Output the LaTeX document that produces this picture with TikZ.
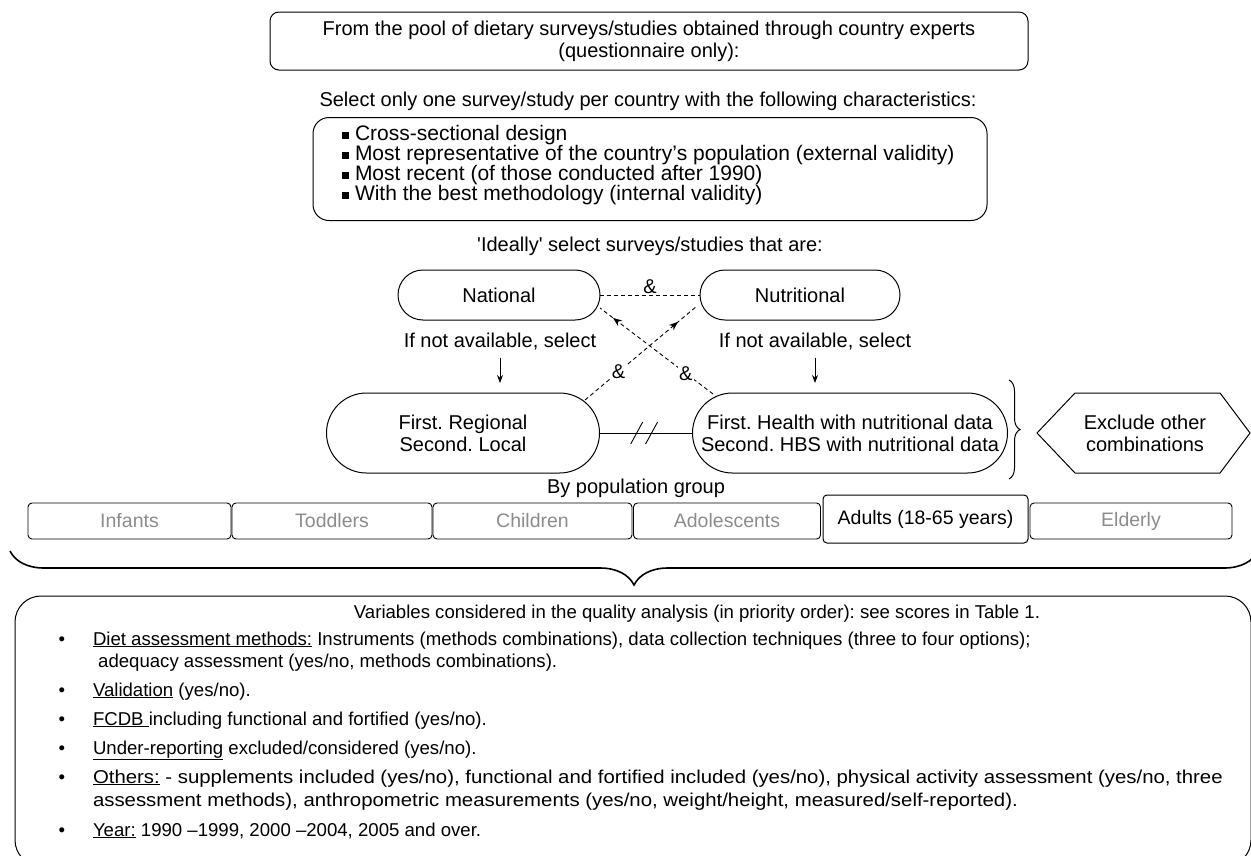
\documentclass[tikz,border=0pt]{standalone}
\usepackage{fontspec}
\setmainfont{Liberation Sans}
\newfontfamily\plainq{Liberation Sans}
\usetikzlibrary{arrows.meta,decorations.pathreplacing,decorations.markings,calc}
\definecolor{popgray}{RGB}{140,140,140}
\begin{document}
\frenchspacing
\begin{tikzpicture}[x=1pt,y=-1pt,
  every node/.style={inner sep=0pt,outer sep=0pt},
  base/.style={font=\fontsize{20}{22}\selectfont},
  plain/.style={base,align=center},
  bigbox/.style={draw,line width=1pt,rounded corners=9pt},
  critbox/.style={draw,line width=1pt,rounded corners=16pt},
  pill/.style={draw,line width=1pt,base,align=center},
  popbox/.style={draw,line width=0.9pt,rounded corners=4pt,minimum height=36pt,font=\fontsize{19.5}{22}\selectfont,text=popgray},
  dashcon/.style={dash pattern=on 4pt off 3pt,line width=0.9pt},
  arr/.style={line width=0.9pt,-{Stealth[length=8pt,width=6pt]}},
  amp/.style={base,fill=white,inner sep=1pt},
  listtxt/.style={font=\fontsize{18.6}{22}\selectfont,anchor=base west},
  dot/.style={font=\fontsize{18.6}{22}\selectfont,anchor=base},
  midarrow/.style={postaction={decorate},decoration={markings,mark=at position #1 with {\arrow{Stealth[length=9pt,width=7pt]}}}},
]
\useasboundingbox (0,0) rectangle (1251,855);
\clip (0,0) rectangle (1251,855);

% top box
\node[bigbox,plain,minimum width=758pt,minimum height=58pt] (pool) at (649,41)
  {From the pool of dietary surveys/studies obtained through country experts\\(questionnaire only):};
\node[plain] (sel) at (648,101) {Select only one survey/study per country with the following characteristics:};

% criteria box
\node[critbox,minimum width=674pt,minimum height=103pt] (crit) at (650,169) {};
\node[font=\fontsize{21}{20}\selectfont,align=left,anchor=north west] (critlist) at (342,125)
  {\raisebox{1pt}{\rule{7pt}{7pt}}\hspace{6pt}Cross-sectional design\\
   \raisebox{1pt}{\rule{7pt}{7pt}}\hspace{6pt}Most representative of the country’s population (external validity)\\
   \raisebox{1pt}{\rule{7pt}{7pt}}\hspace{6pt}Most recent (of those conducted after 1990)\\
   \raisebox{1pt}{\rule{7pt}{7pt}}\hspace{6pt}With the best methodology (internal validity)};

\node[plain,font=\plainq\fontsize{20}{22}\selectfont] (ideal) at (650,246) {'Ideally' select surveys/studies that are:};

% pills
\node[pill,minimum width=202pt,minimum height=50pt,rounded corners=25pt] (nat) at (499,295) {National};
\node[pill,minimum width=200pt,minimum height=50pt,rounded corners=25pt] (nut) at (800,295) {Nutritional};
\draw[dashcon] (nat.east) -- node[base,anchor=south,yshift=1pt] (amp1) {\&} (nut.west);

\node[plain] (ifl) at (500,342) {If not available, select};
\node[plain] (ifr) at (815,342) {If not available, select};

\node[pill,minimum width=273pt,minimum height=80pt,rounded corners=40pt] (reg) at (463,433) {First. Regional\\Second. Local};
\node[pill,minimum width=315pt,minimum height=80pt,rounded corners=40pt] (hea) at (850,433) {First. Health with nutritional data\\Second. HBS with nutritional data};

\draw[arr,shorten <=7pt,shorten >=10pt] (ifl.south) -- (ifl.south |- reg.north);
\draw[arr,shorten <=7pt,shorten >=10pt] (ifr.south) -- (ifr.south |- hea.north);

% crossing dashed connectors
\draw[dashcon,midarrow=0.83] ($(reg.center)+(122,-33)$) -- node[amp,pos=0.3] (amp2) {\&} ($(nut.center)+(-103,11)$);
\draw[dashcon,midarrow=0.885] ($(hea.center)+(-137,-39)$) -- node[amp,pos=0.24] (amp3) {\&} ($(nat.center)+(101,13)$);

% solid connector with double slash
\draw[line width=0.9pt] (reg.east) -- coordinate[pos=0.4] (s1) coordinate[pos=0.56] (s2) (hea.west);
\draw[line width=0.9pt] ($(s1)+(-6,11)$) -- ($(s1)+(6,-11)$);
\draw[line width=0.9pt] ($(s2)+(-6,11)$) -- ($(s2)+(6,-11)$);

% brace and exclude
\draw[line width=1pt,decorate,decoration={brace,amplitude=11pt}] (1009,380) -- (1009,479);
\node[plain] (excl) at (1145,433) {Exclude other\\combinations};
\draw[line width=1pt] ($(excl.center)+(-108,0)$) -- ($(excl.center)+(-70,-40)$) -- ($(excl.center)+(75,-40)$)
  -- ($(excl.center)+(105,0)$) -- ($(excl.center)+(75,40)$) -- ($(excl.center)+(-70,40)$) -- cycle;

% population groups
\node[plain] (bypop) at (636,488) {By population group};
\node[popbox,minimum width=203pt] (inf) at (129.5,521) {Infants};
\node[popbox,minimum width=200pt] (tod) at (332,521) {Toddlers};
\node[popbox,minimum width=199pt] (chi) at (532.5,521) {Children};
\node[popbox,minimum width=187pt] (ado) at (727,521) {Adolescents};
\node[draw,line width=1pt,rounded corners=4pt,minimum width=205pt,minimum height=48pt,font=\fontsize{19.5}{22}\selectfont] (adu) at (925.5,519) {Adults (18-65 years)};
\node[popbox,minimum width=202pt] (eld) at (1131,521) {Elderly};

% big brace
\draw[line width=1.6pt,decorate,decoration={brace,amplitude=34pt}] (1258,551) -- (10,551);

% bottom box
\node[draw,line width=1pt,rounded corners=26pt,minimum width=1236pt,minimum height=270pt,anchor=north west] (vars) at (15,596) {};
\node[font=\fontsize{18.6}{22}\selectfont] (vhead) at (697,614) {Variables considered in the quality analysis (in priority order): see scores in Table 1.};

\node[dot] (b1) at (62,645) {•};
\node[listtxt] (t1) at (93,645) {\underline{Diet assessment methods:} Instruments (methods combinations), data collection techniques (three to four options);};
\node[listtxt] (t1b) at (93,667) {\ adequacy assessment (yes/no, methods combinations).};
\node[dot] (b2) at (62,696) {•};
\node[listtxt] (t2) at (93,696) {\underline{Validation} (yes/no).};
\node[dot] (b3) at (62,725) {•};
\node[listtxt] (t3) at (93,725) {\underline{FCDB }including functional and fortified (yes/no).};
\node[dot] (b4) at (62,754) {•};
\node[listtxt] (t4) at (93,754) {\underline{Under-reporting} excluded/considered (yes/no).};
\node[dot] (b5) at (62,783) {•};
\node[listtxt] (t5) at (93,783) {\scalebox{1.095}[1]{\underline{Others:} - supplements included (yes/no), functional and fortified included (yes/no), physical activity assessment (yes/no, three}};
\node[listtxt] (t5b) at (93,806) {\scalebox{1.095}[1]{assessment methods), anthropometric measurements (yes/no, weight/height, measured/self-reported).}};
\node[dot] (b6) at (62,836) {•};
\node[listtxt] (t6) at (93,836) {\underline{Year:} 1990 –1999, 2000 –2004, 2005 and over.};
\end{tikzpicture}
\end{document}
